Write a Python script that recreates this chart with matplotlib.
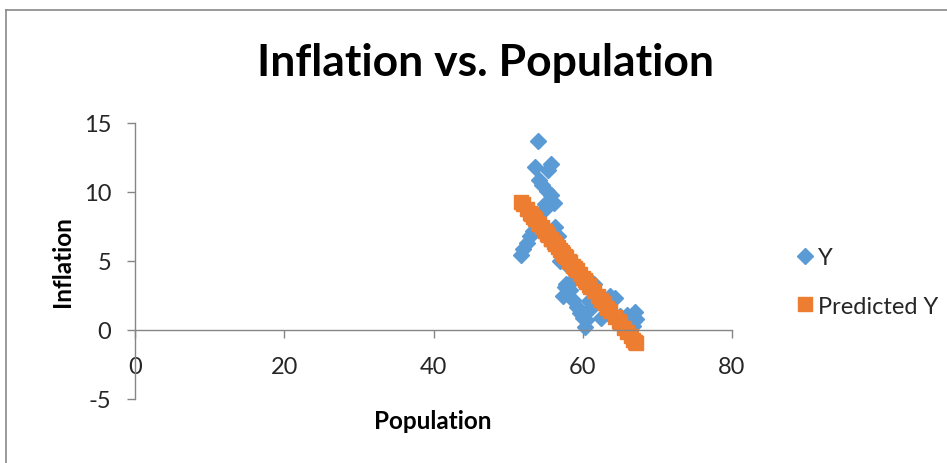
import matplotlib
matplotlib.use("Agg")
import matplotlib.pyplot as plt
from matplotlib.lines import Line2D

plt.rcParams['font.family'] = ['Lato', 'DejaVu Sans']
plt.rcParams['axes.unicode_minus'] = False

# population (x), observed inflation (Y) and regression fit (Predicted Y)
population = [51.7, 52.0, 52.5, 52.9, 53.0, 53.4, 53.6, 54.0, 54.1, 54.5,
              54.9, 54.9, 55.2, 55.3, 55.8, 55.8, 56.1, 56.3, 56.7, 57.0,
              57.2, 57.4, 57.6, 57.8, 58.2, 58.3, 58.7, 59.0, 59.2, 59.6,
              60.0, 60.3, 60.5, 60.8, 61.0, 61.5, 62.0, 62.4, 62.8, 63.3,
              63.7, 64.3, 64.8, 65.0, 65.5, 65.9, 66.4, 66.8, 67.0, 67.2]
inflation = [5.4, 5.9, 6.3, 6.8, 8.3, 7.2, 11.8, 13.7, 10.9, 10.5,
             9.1, 8.8, 10.1, 11.6, 12.0, 9.8, 9.2, 7.5, 6.8, 5.0,
             5.8, 2.5, 3.1, 3.3, 4.6, 2.9, 2.2, 3.8, 1.7, 1.2,
             0.9, 0.2, 0.7, 2.1, 1.5, 3.3, 2.6, 0.9, 1.8, 1.2,
             2.5, 2.3, 0.6, 1.0, 0.3, 1.1, 0.7, 0.3, 1.3, 0.8]
predicted = [9.30, 9.10, 8.77, 8.51, 8.44, 8.18, 8.04, 7.78, 7.71, 7.45,
             7.18, 7.18, 6.98, 6.92, 6.58, 6.58, 6.39, 6.25, 5.99, 5.79,
             5.66, 5.52, 5.39, 5.26, 4.99, 4.93, 4.66, 4.46, 4.33, 4.07,
             3.80, 3.60, 3.47, 3.27, 3.14, 2.81, 2.47, 2.21, 1.94, 1.61,
             1.35, 0.95, 0.62, 0.49, 0.15, -0.11, -0.44, -0.71, -0.84, -0.97]

x_ticks = [0, 20, 40, 60, 80]
y_ticks = [-5, 0, 5, 10, 15]

BLUE = '#5B9BD5'
ORANGE = '#ED7D31'
AXIS = '#868686'
TEXT = '#262626'

W, H = 947, 464
fig = plt.figure(figsize=(W / 100, H / 100), dpi=100)
ax = fig.add_axes([135 / W, 1 - 400 / H, 597 / W, 276 / H])

ax.plot(population, inflation, linestyle='none', marker='D', ms=8,
        color=BLUE, mec=BLUE, label='Y')
ax.plot(population, predicted, linestyle='none', marker='s', ms=10,
        color=ORANGE, mec=ORANGE, label='Predicted Y')

ax.set_xlim(0, 80)
ax.set_ylim(-5, 15)
ax.set_xticks(x_ticks)
ax.set_yticks(y_ticks)

for side in ('top', 'right'):
    ax.spines[side].set_visible(False)
ax.spines['bottom'].set_position(('data', 0))
ax.spines['left'].set_position(('data', 0))
for side in ('bottom', 'left'):
    ax.spines[side].set_color(AXIS)
    ax.spines[side].set_linewidth(1.0)

ax.tick_params(axis='both', direction='out', length=6, width=1.0,
               color=AXIS, labelcolor=TEXT, labelsize=17)
ax.tick_params(axis='x', pad=13)
ax.tick_params(axis='y', pad=11)

fig.text(485 / W, 1 - 63 / H, 'Inflation vs. Population', ha='center',
         va='center', fontsize=32, fontweight='bold', color='black')
fig.text(433 / W, 1 - 422 / H, 'Population', ha='center', va='center',
         fontsize=17.5, fontweight='bold', color='black')
fig.text(62 / W, 1 - 262 / H, 'Inflation', ha='center', va='center',
         rotation=90, fontsize=17.5, fontweight='bold', color='black')

handles = [Line2D([], [], linestyle='none', marker='D', ms=8, color=BLUE),
           Line2D([], [], linestyle='none', marker='s', ms=10, color=ORANGE)]
fig.legend(handles, ['Y', 'Predicted Y'], loc='center left',
           bbox_to_anchor=(778 / W, 1 - 283 / H), frameon=False,
           fontsize=17, handlelength=0.5, handletextpad=0.3,
           labelspacing=1.15, labelcolor=TEXT)

# chart area outline
fig.add_artist(Line2D([5.5 / W, 5.5 / W], [0, 1 - 11 / H],
                      transform=fig.transFigure, color='#898989', lw=1.2))
fig.add_artist(Line2D([5.5 / W, 1], [1 - 11 / H, 1 - 11 / H],
                      transform=fig.transFigure, color='#898989', lw=1.2))

fig.savefig('out.png', dpi=100)
